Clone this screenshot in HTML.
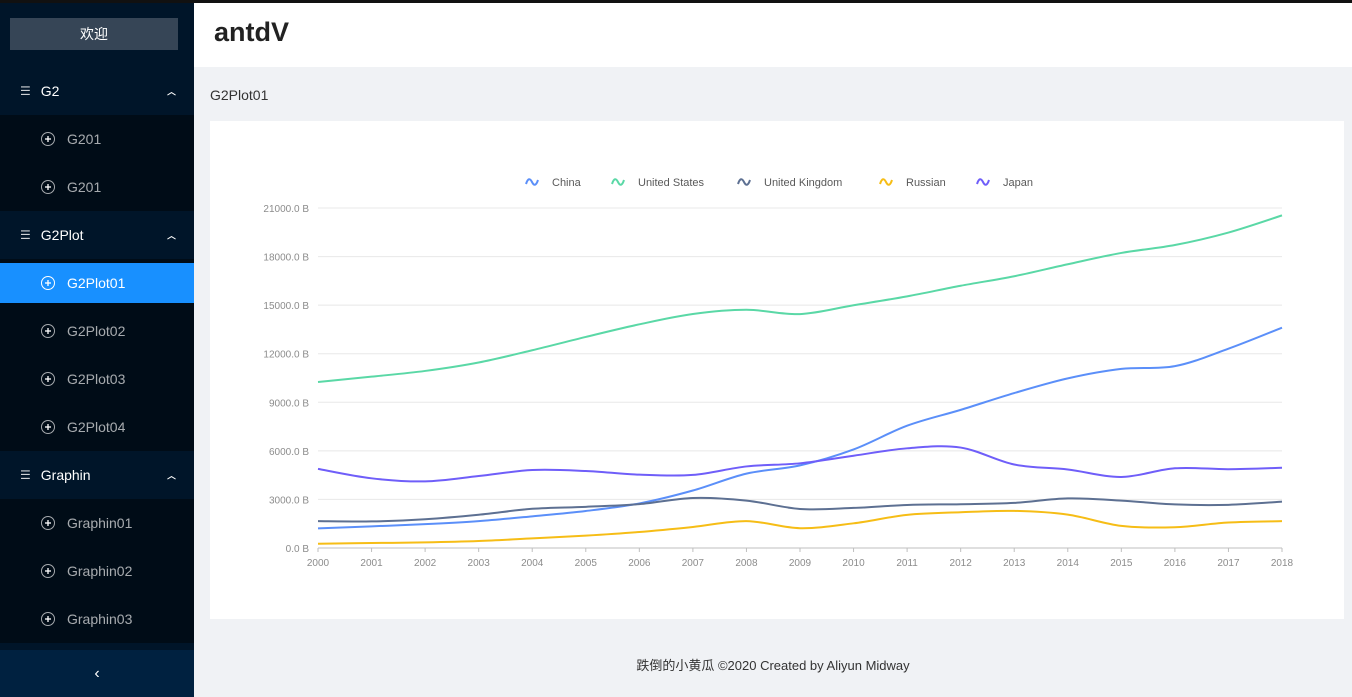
<!DOCTYPE html>
<html><head><meta charset="utf-8"><style>
body{margin:0;width:1352px;height:697px;overflow:hidden;background:#f0f2f5;font-family:"Liberation Sans","Noto Sans CJK SC",sans-serif;position:relative}
#topbar{position:absolute;left:0;top:0;width:1352px;height:3px;background:#111}
#side{position:absolute;left:0;top:3px;width:194px;height:694px;background:#001529;color:#fff;font-size:14px}
.it{position:absolute;left:0;width:194px;display:flex;align-items:center}
.sub{position:absolute;left:0;width:194px;background:#000c17}
.ico{display:inline-block;width:12px;height:12px;border:1.5px solid rgba(255,255,255,.65);border-radius:50%;position:relative;margin-left:41px;margin-right:12px}
.ico:before{content:"";position:absolute;left:3px;top:5.25px;width:6px;height:1.5px;background:rgba(255,255,255,.65)}
.ico:after{content:"";position:absolute;left:5.25px;top:3px;width:1.5px;height:6px;background:rgba(255,255,255,.65)}
.sitem{color:rgba(255,255,255,.65)}
.head .lst{margin-left:20px;margin-right:10px;font-size:12px;color:rgba(255,255,255,.8)}
.arr{position:absolute;right:18px;font-size:9px;font-weight:bold}
</style></head><body>
<div id="topbar"></div>
<div id="side">
 <div style="position:absolute;left:10px;top:15px;width:168px;height:32px;background:#364556;display:flex;align-items:center;justify-content:center;font-size:14px">欢迎</div>
 <div class="it head" style="top:64px;height:48px"><span class="lst">☰</span>G2<span class="arr">︿</span></div>
 <div class="sub" style="top:112px;height:96px"></div>
 <div class="it sitem" style="top:112px;height:48px"><span class="ico"></span>G201</div>
 <div class="it sitem" style="top:160px;height:48px"><span class="ico"></span>G201</div>
 <div class="it head" style="top:208px;height:48px"><span class="lst">☰</span>G2Plot<span class="arr">︿</span></div>
 <div class="sub" style="top:256px;height:192px"></div>
 <div class="it" style="top:260px;height:40px;background:#1890ff"><span class="ico" style="border-color:#fff"></span>G2Plot01</div>
 <div class="it sitem" style="top:304px;height:48px"><span class="ico"></span>G2Plot02</div>
 <div class="it sitem" style="top:352px;height:48px"><span class="ico"></span>G2Plot03</div>
 <div class="it sitem" style="top:400px;height:48px"><span class="ico"></span>G2Plot04</div>
 <div class="it head" style="top:448px;height:48px"><span class="lst">☰</span>Graphin<span class="arr">︿</span></div>
 <div class="sub" style="top:496px;height:144px"></div>
 <div class="it sitem" style="top:496px;height:48px"><span class="ico"></span>Graphin01</div>
 <div class="it sitem" style="top:544px;height:48px"><span class="ico"></span>Graphin02</div>
 <div class="it sitem" style="top:592px;height:48px"><span class="ico"></span>Graphin03</div>
 <div style="position:absolute;left:0;top:647px;width:194px;height:47px;background:#002140;display:flex;align-items:center;justify-content:center;font-size:16px">‹</div>
</div>
<div style="position:absolute;left:194px;top:3px;width:1158px;height:64px;background:#fff">
 <div style="position:absolute;left:20px;top:14px;font-size:27px;font-weight:bold;color:#222">antdV</div>
</div>
<div style="position:absolute;left:210px;top:87px;font-size:14px;color:#333">G2Plot01</div>
<div style="position:absolute;left:210px;top:121px;width:1134px;height:498px;background:#fff"></div>
<svg id="chart" width="1352" height="697" style="position:absolute;left:0;top:0" font-family="Liberation Sans, sans-serif"></svg>
<div style="position:absolute;left:194px;width:1158px;top:655px;text-align:center;font-size:13px;color:#333">跌倒的小黄瓜 ©2020 Created by Aliyun Midway</div>
<script>
const years=[2000,2001,2002,2003,2004,2005,2006,2007,2008,2009,2010,2011,2012,2013,2014,2015,2016,2017,2018];
const seriesNames=["China","United States","United Kingdom","Russian","Japan"];
const seriesColors=["#5B8FF9","#5AD8A6","#5D7092","#F6BD16","#6F5EF9"];
const china=[1211,1339,1471,1660,1955,2286,2752,3550,4594,5102,6087,7552,8532,9570,10476,11062,11233,12310,13608];
const usa=[10252,10582,10936,11458,12214,13037,13815,14452,14713,14449,14992,15543,16197,16785,17527,18225,18715,19485,20544];
const uk=[1658,1641,1778,2054,2422,2543,2709,3091,2929,2412,2475,2659,2705,2786,3064,2929,2694,2667,2861];
const russia=[260,307,345,430,591,764,990,1300,1661,1223,1525,2046,2208,2292,2059,1364,1283,1573,1658];
const japan=[4887,4304,4115,4445,4815,4755,4530,4515,5038,5231,5700,6157,6203,5156,4850,4389,4923,4867,4955];
const seriesData=[china,usa,uk,russia,japan];
const yTicks=[0,3000,6000,9000,12000,15000,18000,21000];
const NS="http://www.w3.org/2000/svg";
const svg=document.getElementById('chart');
const x0=318,x1=1282,yb=548,yt=208,ymax=21000;
const xs=i=>x0+(x1-x0)*i/(years.length-1);
const ys=v=>yb-(yb-yt)*v/ymax;
function mk(t,a,txt){const e=document.createElementNS(NS,t);for(const k in a)e.setAttribute(k,a[k]);if(txt!=null)e.textContent=txt;svg.appendChild(e);return e;}
yTicks.forEach(v=>{
 const g=mk('line',{x1:x0,x2:x1,y1:ys(v),y2:ys(v),stroke:v?'#e8e8e8':'#bfbfbf','stroke-width':1});
 
 
 const t=mk('text',{x:x0-9,y:ys(v)+4,'text-anchor':'end','font-size':10,fill:'#8c8c8c'},v.toFixed(1)+' B');
 
 
});
years.forEach((yr,i)=>{
 const t=mk('text',{x:xs(i),y:566,'text-anchor':'middle','font-size':10,fill:'#8c8c8c'},yr);
 
 
 const k=mk('line',{x1:xs(i),x2:xs(i),y1:yb,y2:yb+4,stroke:'#bfbfbf'});
 
 
});
function path(d){const p=d.map((v,i)=>[xs(i),ys(v)]);let s='M'+p[0][0]+','+p[0][1];
 for(let i=0;i<p.length-1;i++){const a=p[Math.max(0,i-1)],b=p[i],c=p[i+1],e=p[Math.min(p.length-1,i+2)];
  s+=' C'+(b[0]+(c[0]-a[0])/6)+','+(b[1]+(c[1]-a[1])/6)+' '+(c[0]-(e[0]-b[0])/6)+','+(c[1]-(e[1]-b[1])/6)+' '+c[0]+','+c[1];}
 return s;}
seriesData.forEach((d,k)=>{
 const l=mk('path',{d:path(d),fill:'none',stroke:seriesColors[k],'stroke-width':2});
 
 
});
const legX=[526,612,738,880,977];
seriesNames.forEach((n,k)=>{
 const x=legX[k];
 const ic=mk('path',{d:`M${x},184 C${x+2},178 ${x+4},178 ${x+6},182 C${x+8},186 ${x+10},186 ${x+12},180`,fill:'none',stroke:seriesColors[k],'stroke-width':2});
 
 
 const t=mk('text',{x:x+26,y:186,'font-size':11,fill:'#595959'},n);
 
 
});
</script>
</body></html>
